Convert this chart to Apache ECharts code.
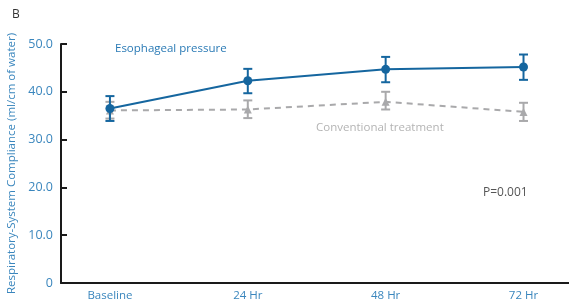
<!DOCTYPE html>
<html><head><meta charset="utf-8">
<script src="https://cdn.jsdelivr.net/npm/echarts@6/dist/echarts.min.js"></script>
<style>html,body{margin:0;padding:0;background:#fff}#c{width:569px;height:304px}</style>
</head><body><div id="c"></div>
<script>
const categories = ['Baseline', '24 Hr', '48 Hr', '72 Hr'];
const esoMean = [36.5, 42.3, 44.7, 45.2];
const esoLow  = [33.9, 39.7, 42.0, 42.5];
const esoHigh = [39.1, 44.8, 47.3, 47.8];
const convMean = [36.1, 36.3, 37.9, 35.8];
const convLow  = [34.4, 34.5, 36.3, 33.9];
const convHigh = [37.9, 38.2, 40.0, 37.7];
const yTicks = [0, 10, 20, 30, 40, 50];

const blue = '#15669f';
const grey = '#a9a9ab';
const labelBlue = '#3a86bd';
const font = 'Open Sans';

function pts(arr){ return arr.map((v,i)=>[i,v]); }
function errData(lo, hi){ return lo.map((v,i)=>[i, v, hi[i]]); }
function errSeries(lo, hi, color){
  return {
    type:'custom', data: errData(lo, hi), z: 3,
    renderItem: function(params, api){
      const x = api.value(0);
      const a = api.coord([x, api.value(1)]);
      const b = api.coord([x, api.value(2)]);
      const w = 4.5;
      const st = {stroke: color, lineWidth: 2, fill: null};
      return {type:'group', children:[
        {type:'line', shape:{x1:a[0], y1:a[1], x2:b[0], y2:b[1]}, style:st},
        {type:'line', shape:{x1:a[0]-w, y1:a[1], x2:a[0]+w, y2:a[1]}, style:st},
        {type:'line', shape:{x1:b[0]-w, y1:b[1], x2:b[0]+w, y2:b[1]}, style:st}
      ]};
    }
  };
}

const chart = echarts.init(document.getElementById('c'));
chart.setOption({
  animation:false,
  backgroundColor:'#fff',
  grid:{left:61, right:0, top:44, bottom:21, containLabel:false, outerBoundsMode:'none'},
  xAxis:{
    type:'value', min:-0.355, max:3.33,
    splitLine:{show:false},
    axisLine:{show:true, onZero:false, lineStyle:{color:'#1a1a1a', width:2}},
    axisTick:{show:false},
    axisLabel:{customValues:[0,1,2,3], formatter:v=>categories[Math.round(v)], color:labelBlue, fontFamily:font, fontSize:11.5, margin:7}
  },
  yAxis:{
    type:'value', min:0, max:50, interval:10,
    name:'Respiratory-System Compliance (ml/cm of water)',
    nameLocation:'middle', nameGap:41, nameRotate:90,
    nameTextStyle:{color:labelBlue, fontFamily:font, fontSize:11.5},
    splitLine:{show:false},
    axisLine:{show:true, onZero:false, lineStyle:{color:'#1a1a1a', width:2}},
    axisTick:{show:true, inside:true, length:6, lineStyle:{color:'#1a1a1a', width:2}},
    axisLabel:{formatter:v=> v===0 ? '0' : v.toFixed(1), color:labelBlue, fontFamily:font, fontSize:12.5, margin:8}
  },
  series:[
    {type:'line', data:pts(convMean), symbol:'triangle', symbolSize:8, z:2,
     lineStyle:{color:grey, width:2, type:[6,5]}, itemStyle:{color:grey}},
    errSeries(convLow, convHigh, grey),
    {type:'line', data:pts(esoMean), symbol:'circle', symbolSize:9, z:5,
     lineStyle:{color:blue, width:2}, itemStyle:{color:blue}},
    Object.assign(errSeries(esoLow, esoHigh, blue), {z:6})
  ],
  graphic:[
    {type:'text', left:12, top:9, style:{text:'B', fill:'#333', font:'12px "Open Sans"'}},
    {type:'text', left:115, top:43, style:{text:'Esophageal pressure', fill:'#2a7ab5', font:'11.5px "Open Sans"'}},
    {type:'text', left:316, top:122, style:{text:'Conventional treatment', fill:'#b4b4b4', font:'11.5px "Open Sans"'}},
    {type:'text', left:483, top:187, style:{text:'P=0.001', fill:'#555', font:'12px "Open Sans"'}}
  ]
});
</script></body></html>
